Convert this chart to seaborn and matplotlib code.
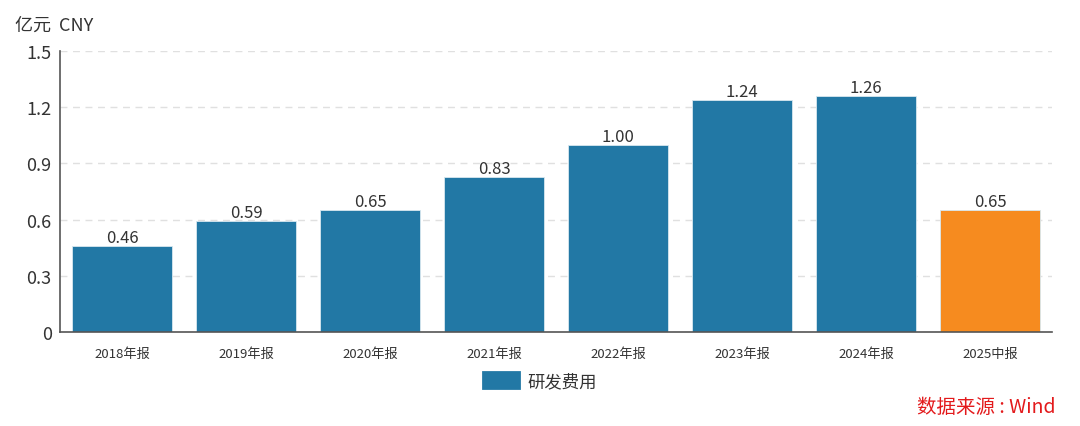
import matplotlib
matplotlib.use("Agg")
import matplotlib.pyplot as plt
import seaborn as sns
import pandas as pd
from matplotlib.patches import Patch

categories = ["2018年报", "2019年报", "2020年报", "2021年报", "2022年报", "2023年报", "2024年报", "2025中报"]
values = [0.46, 0.59, 0.65, 0.83, 1.00, 1.24, 1.26, 0.65]
bar_colors = ["#2278a5"] * 7 + ["#f68b1f"]
yticks = [0, 0.3, 0.6, 0.9, 1.2, 1.5]
ytick_labels = ["0", "0.3", "0.6", "0.9", "1.2", "1.5"]
series_name = "研发费用"

sns.set_style("white")
plt.rcParams['font.family'] = ['Noto Sans CJK SC', 'DejaVu Sans']

df = pd.DataFrame({"cat": categories, "val": values})

fig = plt.figure(figsize=(10.8, 4.27), dpi=100)
ax = fig.add_axes([0.0556, 0.2201, 0.9185, 0.6581])

sns.barplot(data=df, x="cat", y="val", hue="cat", palette=bar_colors, legend=False,
            width=0.8, ax=ax, edgecolor="#d8e8f0", linewidth=0.6, saturation=1)

ax.set_ylim(0, 1.5)
ax.set_xlim(-0.5, len(categories) - 0.5)
ax.set_yticks(yticks)
ax.set_yticklabels(ytick_labels, fontsize=13, color="#333333")
ax.tick_params(axis="x", labelsize=9.5, colors="#333333", length=7, width=1, direction="out")
ax.tick_params(axis="y", length=5, width=1, direction="out", pad=1)
ax.tick_params(axis="x", color="#555555")
ax.tick_params(axis="y", color="#555555")
ax.set_xlabel("")
ax.set_ylabel("")

for s in ["top", "right"]:
    ax.spines[s].set_visible(False)
for s in ["left", "bottom"]:
    ax.spines[s].set_visible(True)
    ax.spines[s].set_color("#555555")
    ax.spines[s].set_linewidth(1.2)

ax.yaxis.grid(True, linestyle=(0, (5, 4)), color="#e0e0e0", linewidth=1)
ax.set_axisbelow(True)

for i, v in enumerate(values):
    ax.annotate(f"{v:.2f}", xy=(i, v), xytext=(0, 0), textcoords="offset points",
                ha="center", va="bottom", fontsize=12, color="#333333")

fig.text(0.014, 0.94, "亿元  CNY", fontsize=13, color="#333333", ha="left", va="center")

handle = Patch(facecolor=bar_colors[0], edgecolor=bar_colors[0], linewidth=2, joinstyle="round")
leg = fig.legend(handles=[handle], labels=[series_name], loc="center", bbox_to_anchor=(0.5, 0.105),
                 frameon=False, fontsize=12.5, handlelength=2.1, handleheight=1.0, handletextpad=0.5)
for t in leg.get_texts():
    t.set_color("#333333")

fig.text(0.977, 0.045, "数据来源 : Wind", fontsize=14, color="#e31a1c", ha="right", va="center")

fig.savefig("out.png", dpi=100)
